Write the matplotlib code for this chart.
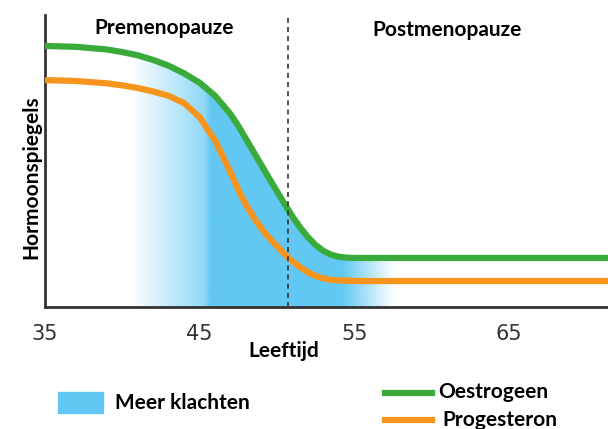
import numpy as np
import matplotlib
matplotlib.use("Agg")
import matplotlib.pyplot as plt
from matplotlib.patches import Rectangle
from matplotlib.lines import Line2D

# hormone levels (arbitrary units, 0-100)
oestrogeen_age = [35, 37, 39, 40, 41, 42, 43, 44, 45, 46, 47, 47.5, 48, 48.5, 49, 49.5, 50,
                  50.5, 51, 51.5, 52, 52.5, 53, 53.5, 54, 54.5, 55, 71.4]
oestrogeen = [89.4, 89.1, 88.2, 87.3, 86.2, 84.6, 82.6, 80.0, 76.8, 72.3, 66.0, 62.0, 57.5,
              53.0, 48.5, 44.0, 39.6, 35.2, 31.0, 27.2, 23.9, 21.2, 19.2, 17.9, 17.2, 16.9,
              16.8, 16.8]
progesteron_age = [35, 37, 39, 40, 41, 42, 43, 44, 45, 46, 47, 47.6, 48, 48.7, 49.3, 49.8,
                   50.4, 50.9, 51.5, 52.1, 52.6, 53, 53.5, 54, 55, 71.4]
progesteron = [77.7, 77.4, 76.6, 75.9, 75.0, 73.8, 72.3, 69.8, 65.0, 57.0, 46.0, 39.0, 35.0,
               29.0, 24.8, 21.9, 18.6, 16.1, 13.6, 11.6, 10.4, 9.8, 9.3, 9.1, 8.9, 8.9]
ticks = [35, 45, 55, 65]
menopauze = 50.7

groen = "#3aaa3a"
oranje = "#f7941d"
blauw = "#62c8f3"

W, H = 608, 429
fig = plt.figure(figsize=(W / 100, H / 100), dpi=100)
ax = fig.add_axes([45 / W, 1 - 307 / H, 1 - 45 / W, (307 - 15) / H])
ax.set_xlim(35, 71.4)
ax.set_ylim(0, 100)

# blue "meer klachten" zone: under the green curve, fading in/out sideways
xs = np.linspace(35, 71.4, 800)
alpha = np.interp(xs, [40.5, 45.3, 45.7, 54.2, 57.6], [0, 0.7, 1, 1, 0])
img = np.zeros((2, len(xs), 4))
img[..., :3] = matplotlib.colors.to_rgb(blauw)
img[..., 3] = alpha
im = ax.imshow(img, extent=[35, 71.4, 0, 100], aspect="auto", origin="lower", zorder=1)
poly = ax.fill_between(oestrogeen_age, oestrogeen, 0, color="none", lw=0)
clip = poly.get_paths()[0]
im.set_clip_path(clip, transform=ax.transData)

ax.plot(oestrogeen_age, oestrogeen, color=groen, lw=4.5, solid_capstyle="butt",
        solid_joinstyle="round", zorder=3)
ax.plot(progesteron_age, progesteron, color=oranje, lw=4.5, solid_capstyle="butt",
        solid_joinstyle="round", zorder=3)
ax.axvline(menopauze, color="#333333", ls=(0, (3, 2.5)), lw=1.2, zorder=4)

for s in ["top", "right"]:
    ax.spines[s].set_visible(False)
ax.spines["left"].set_linewidth(2)
ax.spines["bottom"].set_linewidth(2)
ax.spines["left"].set_color("#333333")
ax.spines["bottom"].set_color("#333333")
ax.set_yticks([])
ax.set_xticks(ticks)
ax.tick_params(axis="x", length=0, pad=12, labelsize=15, labelcolor="#333333")

bold = dict(family="Lato", fontweight="bold", color="black", fontsize=15)
fig.text(164 / W, 1 - 28 / H, "Premenopauze", ha="center", va="center", **bold)
fig.text(447 / W, 1 - 30 / H, "Postmenopauze", ha="center", va="center", **bold)
fig.text(284 / W, 1 - 351 / H, "Leeftijd", ha="center", va="center", **bold)
fig.text(31 / W, 1 - 177 / H, "Hormoonspiegels", ha="center", va="center", rotation=90,
         **bold)

# legend
fig.patches.append(Rectangle((58 / W, 1 - 413 / H), 45 / W, 21 / H, color=blauw,
                             transform=fig.transFigure, figure=fig))
fig.text(115 / W, 1 - 403 / H, "Meer klachten", ha="left", va="center", **bold)
fig.lines.append(Line2D([385 / W, 432 / W], [1 - 393 / H] * 2, color=groen, lw=4.5,
                        transform=fig.transFigure, figure=fig))
fig.lines.append(Line2D([385 / W, 432 / W], [1 - 420 / H] * 2, color=oranje, lw=4.5,
                        transform=fig.transFigure, figure=fig))
fig.text(438 / W, 1 - 392 / H, "Oestrogeen", ha="left", va="center", **bold)
fig.text(442 / W, 1 - 420 / H, "Progesteron", ha="left", va="center", **bold)

fig.savefig("out.png", dpi=100)
